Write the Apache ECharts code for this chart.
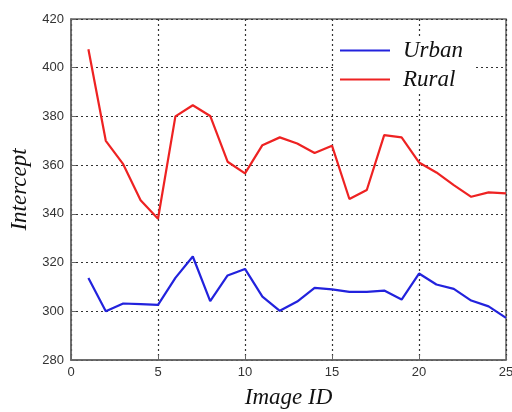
<!DOCTYPE html>
<html>
<head>
<meta charset="utf-8">
<script src="https://cdn.jsdelivr.net/npm/echarts@6/dist/echarts.min.js"></script>
<style>
  html, body { margin: 0; padding: 0; background: #fff; }
  #chart { width: 512px; height: 412px; }
</style>
</head>
<body>
<div id="chart"></div>
<script>
// 数据
var imageIds = [1, 2, 3, 4, 5, 6, 7, 8, 9, 10, 11, 12, 13, 14, 15, 16, 17, 18, 19, 20, 21, 22, 23, 24, 25];
var urban = [313.7, 300.0, 303.2, 302.9, 302.6, 313.7, 322.5, 304.2, 314.7, 317.4, 306.0, 300.2, 304.0,
             309.6, 309.0, 308.0, 308.0, 308.5, 304.8, 315.5, 311.0, 309.2, 304.4, 302.0, 297.3];
var rural = [407.6, 370.0, 360.4, 345.6, 338.0, 380.0, 384.6, 380.2, 361.4, 356.6, 368.2, 371.4, 368.9,
             365.0, 368.0, 346.1, 349.8, 372.3, 371.4, 361.1, 357.0, 351.8, 347.0, 348.8, 348.4];

function pairs(ys) {
    return imageIds.map(function (x, i) { return [x, ys[i]]; });
}

var serifItalic = { fontFamily: 'Liberation Serif', fontStyle: 'italic', fontSize: 23, color: '#111' };

function initChart() {
    var chart = echarts.init(document.getElementById('chart'));
    var option = {
        animation: false,
        backgroundColor: '#fff',
        grid: {
            left: 71, right: 6, top: 19, bottom: 52,
            outerBoundsMode: 'none',
            containLabel: false,
            show: true,
            borderColor: '#666',
            borderWidth: 1.5
        },
        legend: {
            data: ['Urban', 'Rural'],
            orient: 'vertical',
            left: 336,
            top: 37,
            itemWidth: 50,
            itemHeight: 2,
            itemGap: 6,
            backgroundColor: '#fff',
            padding: [2, 10, 2, 4],
            icon: 'rect',
            textStyle: Object.assign({ padding: [0, 0, 0, 8] }, serifItalic)
        },
        xAxis: {
            type: 'value',
            min: 0,
            max: 25,
            interval: 5,
            name: 'Image ID',
            nameLocation: 'middle',
            nameGap: 26,
            nameTextStyle: serifItalic,
            axisLine: { show: true, lineStyle: { color: '#666', width: 1.5 } },
            axisTick: { show: true, inside: true, length: 5, lineStyle: { color: '#666' } },
            axisLabel: { fontFamily: 'Liberation Sans', fontSize: 13, color: '#333', margin: 6 },
            splitLine: { show: true, lineStyle: { color: '#333', type: [2, 3], width: 1.2 } }
        },
        yAxis: {
            type: 'value',
            min: 280,
            max: 420,
            interval: 20,
            name: 'Intercept',
            nameLocation: 'middle',
            nameGap: 34,
            nameTextStyle: serifItalic,
            axisLine: { show: true, lineStyle: { color: '#666', width: 1.5 } },
            axisTick: { show: true, inside: true, length: 5, lineStyle: { color: '#666' } },
            axisLabel: { fontFamily: 'Liberation Sans', fontSize: 13, color: '#333', margin: 7 },
            splitLine: { show: true, lineStyle: { color: '#333', type: [2, 3], width: 1.2 } }
        },
        series: [{
            name: 'Urban',
            type: 'line',
            data: pairs(urban),
            symbol: 'none',
            color: '#2222dd',
            lineStyle: { width: 2.2, color: '#2222dd' },
            z: 3
        }, {
            name: 'Rural',
            type: 'line',
            data: pairs(rural),
            symbol: 'none',
            color: '#ee2222',
            lineStyle: { width: 2.2, color: '#ee2222' },
            z: 3
        }]
    };
    chart.setOption(option);
}

document.addEventListener('DOMContentLoaded', initChart);
</script>
</body>
</html>
